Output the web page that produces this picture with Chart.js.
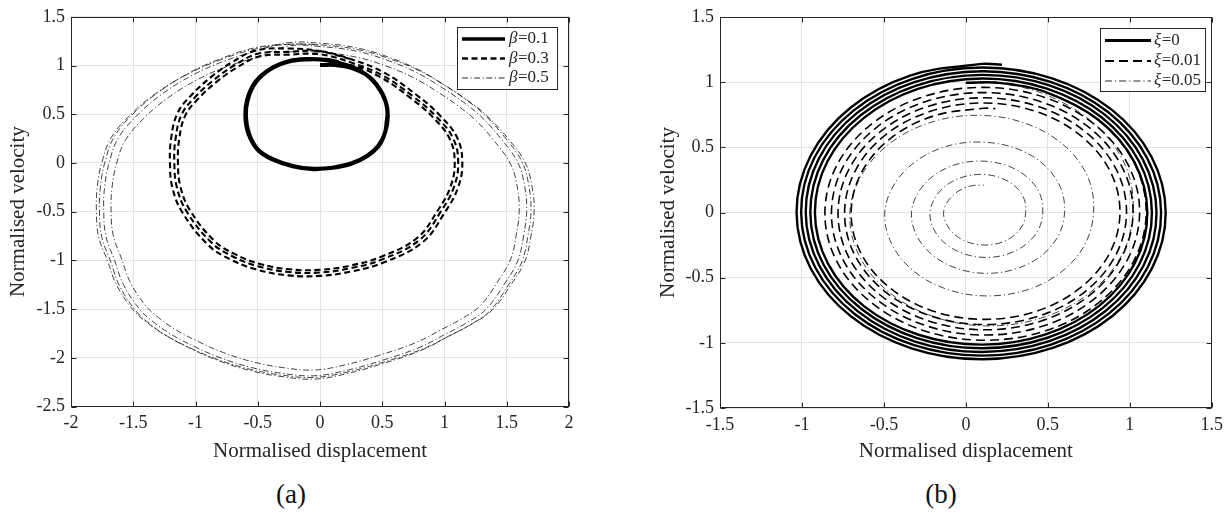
<!DOCTYPE html>
<html>
<head>
<meta charset="utf-8">
<script src="https://cdn.jsdelivr.net/npm/chart.js@4.4.1/dist/chart.umd.min.js"></script>
<style>
  html, body { margin: 0; padding: 0; background: #fff; }
  #wrap { position: relative; width: 1229px; height: 513px; overflow: hidden; background: #fff; }
  canvas { position: absolute; top: 0; }
  .cap { position: absolute; top: 479px; font-family: "Liberation Serif", serif; font-size: 27px; color: #111; transform: translateX(-50%); line-height: 31px; }
</style>
</head>
<body>
<div id="wrap">
  <canvas id="chartA" width="600" height="470" style="left:0"></canvas>
  <canvas id="chartB" width="609" height="470" style="left:620px"></canvas>
  <div class="cap" id="capA" style="left:291px"></div>
  <div class="cap" id="capB" style="left:941px"></div>
</div>
<script>
// ---- Panel (a): phase trajectories for beta ----
const betaLabels = ['0.1', '0.3', '0.5'];

const beta01 = [
  [0, 1.005], [0.12, 1.005], [0.25, 0.975], [0.4, 0.88], [0.5, 0.715], [0.54, 0.55], [0.535, 0.42],
  [0.52, 0.3], [0.47, 0.17], [0.38, 0.07], [0.25, -0.01], [0.1, -0.05], [-0.05, -0.06], [-0.22, -0.03],
  [-0.38, 0.04], [-0.5, 0.14], [-0.57, 0.3], [-0.595, 0.48], [-0.58, 0.65], [-0.52, 0.82], [-0.4, 0.96],
  [-0.25, 1.04], [-0.1, 1.062], [0.05, 1.055], [0.2, 1.01], [0.35, 0.925], [0.46, 0.79], [0.53, 0.62],
  [0.545, 0.48], [0.525, 0.32], [0.47, 0.18], [0.38, 0.075], [0.25, -0.005], [0.1, -0.048], [-0.05, -0.065],
  [-0.22, -0.035], [-0.38, 0.035], [-0.5, 0.135], [-0.575, 0.3], [-0.6, 0.48], [-0.585, 0.65], [-0.52, 0.83],
  [-0.4, 0.965], [-0.25, 1.045], [-0.1, 1.067], [0.05, 1.058], [0.15, 1.035]
];

const beta03 = [
  [0, 1.0], [0.244, 1.004], [0.488, 0.878], [0.731, 0.663], [0.907, 0.468], [1.043, 0.244], [1.082, 0],
  [1.048, -0.244], [0.946, -0.488], [0.78, -0.77], [0.488, -0.965], [0.244, -1.053], [0, -1.097],
  [-0.244, -1.092], [-0.488, -1.034], [-0.683, -0.936], [-0.848, -0.8], [-1.043, -0.488], [-1.121, -0.244],
  [-1.141, 0], [-1.131, 0.244], [-1.082, 0.488], [-0.975, 0.663], [-0.829, 0.834], [-0.673, 0.975], [-0.488, 1.092],
  [-0.244, 1.112], [0, 1.115], [0.25, 1.03], [0.5, 0.9], [0.75, 0.68], [0.93, 0.48], [1.07, 0.25], [1.11, 0],
  [1.075, -0.25], [0.97, -0.5], [0.8, -0.79], [0.5, -0.99], [0.25, -1.08], [0, -1.125], [-0.25, -1.12],
  [-0.5, -1.06], [-0.7, -0.96], [-0.87, -0.82], [-1.07, -0.5], [-1.15, -0.25], [-1.17, 0], [-1.16, 0.25],
  [-1.11, 0.5], [-1.0, 0.68], [-0.85, 0.855], [-0.69, 1.0], [-0.5, 1.12], [-0.25, 1.14], [0, 1.148], [0.258, 1.061],
  [0.515, 0.927], [0.773, 0.7], [0.958, 0.494], [1.102, 0.258], [1.143, 0], [1.107, -0.258], [0.999, -0.515],
  [0.824, -0.814], [0.515, -1.02], [0.258, -1.112], [0, -1.159], [-0.258, -1.154], [-0.515, -1.092],
  [-0.721, -0.989], [-0.896, -0.845], [-1.102, -0.515], [-1.185, -0.258], [-1.205, 0], [-1.195, 0.258],
  [-1.143, 0.515], [-1.03, 0.7], [-0.876, 0.881], [-0.711, 1.03], [-0.515, 1.154], [-0.258, 1.174], [0, 1.148], [0.258, 1.061]
];

const beta05 = [
  [-0.243, 1.141], [-0.001, 1.136], [0.288, 1.087], [0.539, 0.991], [0.751, 0.875], [0.954, 0.721], [1.108, 0.586],
  [1.243, 0.446], [1.398, 0.229], [1.533, -0.018], [1.586, -0.259], [1.6, -0.5], [1.576, -0.741], [1.533, -0.983],
  [1.427, -1.219], [1.287, -1.465], [1.137, -1.6], [0.973, -1.712], [0.771, -1.844], [0.471, -1.976], [0.201, -2.073],
  [-0.05, -2.126], [-0.291, -2.102], [-0.532, -2.044], [-0.773, -1.948], [-0.966, -1.841], [-1.159, -1.712],
  [-1.295, -1.59], [-1.401, -1.465], [-1.526, -1.219], [-1.594, -0.983], [-1.661, -0.741], [-1.678, -0.5],
  [-1.671, -0.259], [-1.636, -0.018], [-1.565, 0.229], [-1.41, 0.465], [-1.217, 0.672], [-0.986, 0.854],
  [-0.754, 0.986], [-0.494, 1.092],
  [-0.25, 1.2], [0, 1.195], [0.3, 1.145], [0.56, 1.045], [0.78, 0.925], [0.99, 0.765], [1.15, 0.625],
  [1.29, 0.48], [1.45, 0.255], [1.59, 0], [1.645, -0.25], [1.66, -0.5], [1.635, -0.75], [1.59, -1.0],
  [1.48, -1.245], [1.335, -1.5], [1.18, -1.64], [1.01, -1.756], [0.8, -1.893], [0.49, -2.03], [0.21, -2.13],
  [-0.05, -2.185], [-0.3, -2.16], [-0.55, -2.1], [-0.8, -2.0], [-1.0, -1.89], [-1.2, -1.756], [-1.34, -1.63],
  [-1.45, -1.5], [-1.58, -1.245], [-1.65, -1.0], [-1.72, -0.75], [-1.737, -0.5], [-1.73, -0.25], [-1.694, 0],
  [-1.62, 0.255], [-1.46, 0.5], [-1.26, 0.715], [-1.02, 0.903], [-0.78, 1.04], [-0.51, 1.15],
  [-0.254, 1.234], [0.001, 1.229], [0.307, 1.178], [0.572, 1.076], [0.796, 0.954], [1.011, 0.79], [1.174, 0.648],
  [1.317, 0.5], [1.48, 0.27], [1.623, 0.01], [1.679, -0.245], [1.694, -0.5], [1.669, -0.755], [1.623, -1.01],
  [1.51, -1.26], [1.363, -1.52], [1.204, -1.663], [1.031, -1.781], [0.817, -1.921], [0.501, -2.061], [0.215, -2.163],
  [-0.05, -2.219], [-0.305, -2.193], [-0.56, -2.132], [-0.815, -2.03], [-1.019, -1.918], [-1.223, -1.781],
  [-1.366, -1.653], [-1.478, -1.52], [-1.611, -1.26], [-1.682, -1.01], [-1.754, -0.755], [-1.771, -0.5],
  [-1.764, -0.245], [-1.727, 0.01], [-1.652, 0.27], [-1.488, 0.52], [-1.284, 0.739], [-1.04, 0.931],
  [-0.795, 1.071], [-0.519, 1.183],
  [-0.257, 1.217], [0.001, 1.212], [0.312, 1.161], [0.581, 1.06], [0.809, 0.939], [1.026, 0.778], [1.192, 0.636],
  [1.336, 0.49], [1.502, 0.263], [1.647, 0.005], [1.704, -0.248], [1.72, -0.5], [1.694, -0.753], [1.647, -1.005],
  [1.533, -1.252], [1.383, -1.51], [1.223, -1.651], [1.047, -1.769], [0.829, -1.907], [0.509, -2.045], [0.219, -2.146],
  [-0.05, -2.202], [-0.309, -2.177], [-0.568, -2.116], [-0.827, -2.015], [-1.034, -1.904], [-1.241, -1.769],
  [-1.386, -1.641], [-1.5, -1.51], [-1.634, -1.252], [-1.706, -1.005], [-1.779, -0.753], [-1.796, -0.5],
  [-1.789, -0.248], [-1.752, 0.005], [-1.675, 0.263], [-1.51, 0.51], [-1.303, 0.727], [-1.054, 0.917],
  [-0.806, 1.055], [-0.527, 1.167], [-0.257, 1.217], [0.001, 1.212]
];

// ---- Panel (b): phase trajectories for xi ----
const xiLabels = ['0', '0.01', '0.05'];

const xi000 = [
  [0, 0.995], [0.2, 0.995], [0.483, 0.926], [0.81, 0.71], [1.029, 0.385], [1.107, 0], [1.032, -0.386], [0.815, -0.715], [0.487, -0.935],
  [0.1, -1.014], [-0.289, -0.938], [-0.62, -0.72], [-0.842, -0.39], [-0.921, 0], [-0.845, 0.391], [-0.624, 0.724], [-0.293, 0.948],
  [0.1, 1.028], [0.494, 0.951], [0.829, 0.729], [1.055, 0.395], [1.135, 0], [1.058, -0.397], [0.834, -0.734], [0.498, -0.961],
  [0.1, -1.042], [-0.299, -0.964], [-0.639, -0.739], [-0.868, -0.401], [-0.949, 0], [-0.871, 0.402], [-0.644, 0.744], [-0.303, 0.974],
  [0.1, 1.056], [0.505, 0.977], [0.849, 0.749], [1.08, 0.406], [1.163, 0], [1.084, -0.407], [0.854, -0.754], [0.509, -0.987],
  [0.1, -1.07], [-0.31, -0.99], [-0.659, -0.759], [-0.893, -0.411], [-0.977, 0], [-0.897, 0.413], [-0.664, 0.764], [-0.314, 1.0],
  [0.1, 1.084], [0.516, 1.003], [0.869, 0.769], [1.106, 0.417], [1.191, 0], [1.11, -0.418], [0.874, -0.774], [0.52, -1.013],
  [0.1, -1.098], [-0.321, -1.016], [-0.679, -0.779], [-0.919, -0.422], [-1.005, 0], [-0.923, 0.424], [-0.684, 0.784], [-0.325, 1.026],
  [0.1, 1.112], [0.526, 1.029], [0.889, 0.789], [1.132, 0.428], [1.219, 0], [1.135, -0.429], [0.894, -0.794], [0.53, -1.039],
  [0.1, -1.126], [-0.332, -1.042], [-0.699, -0.799], [-0.945, -0.433], [-1.033, 0], [-0.948, 0.434], [-0.704, 0.804], [-0.336, 1.052],
  [0.1, 1.14], [0.22, 1.134]
];

const xi001 = [
  [0, 0.994], [0.2, 0.996], [0.492, 0.922], [0.814, 0.704], [1.027, 0.38], [1.1, 0], [1.022, -0.378], [0.807, -0.696], [0.486, -0.908],
  [0.11, -0.98], [-0.264, -0.903], [-0.579, -0.689], [-0.789, -0.372], [-0.86, 0], [-0.784, 0.37], [-0.572, 0.682], [-0.258, 0.889],
  [0.11, 0.96], [0.476, 0.885], [0.785, 0.675], [0.99, 0.365], [1.06, 0], [0.985, -0.363], [0.778, -0.668], [0.471, -0.871],
  [0.11, -0.94], [-0.249, -0.866], [-0.551, -0.661], [-0.752, -0.357], [-0.82, 0], [-0.747, 0.355], [-0.544, 0.654], [-0.243, 0.852],
  [0.11, 0.92], [0.461, 0.848], [0.757, 0.647], [0.953, 0.349], [1.02, 0], [0.948, -0.347], [0.75, -0.64], [0.455, -0.834],
  [0.11, -0.9], [-0.233, -0.829], [-0.523, -0.633], [-0.715, -0.342], [-0.78, 0], [-0.71, 0.34], [-0.516, 0.626], [-0.228, 0.815],
  [0.11, 0.88], [0.446, 0.811], [0.729, 0.619], [0.916, 0.334], [0.98, 0], [0.912, -0.332], [0.722, -0.612], [0.44, -0.797],
  [0.11, -0.86], [-0.218, -0.792], [-0.495, -0.605], [-0.678, -0.326], [-0.74, 0], [-0.673, 0.324], [-0.488, 0.598], [-0.212, 0.778],
  [0.11, 0.84], [0.431, 0.774], [0.7, 0.59], [0.879, 0.319], [0.94, 0], [0.875, -0.317], [0.693, -0.583], [0.425, -0.76],
  [0.11, -0.82], [-0.203, -0.755], [-0.466, -0.576], [-0.641, -0.311], [-0.7, 0], [-0.636, 0.309], [-0.459, 0.569], [-0.197, 0.741],
  [0.11, 0.8], [0.18, 0.797]
];

const xi005 = [
  [0, 0.993], [0.2, 0.992], [0.493, 0.901], [0.792, 0.672], [0.975, 0.354], [1.02, 0], [0.945, -0.342], [0.746, -0.626], [0.456, -0.811],
  [0.12, -0.87], [-0.209, -0.794], [-0.48, -0.6], [-0.655, -0.321], [-0.708, 0], [-0.626, 0.309], [-0.436, 0.556], [-0.173, 0.707],
  [0.12, 0.744], [0.397, 0.668], [0.616, 0.496], [0.748, 0.26], [0.779, 0], [0.724, -0.25], [0.579, -0.459], [0.367, -0.596],
  [0.12, -0.64], [-0.123, -0.586], [-0.324, -0.444], [-0.454, -0.238], [-0.495, 0], [-0.431, 0.228], [-0.288, 0.408], [-0.094, 0.516],
  [0.12, 0.539], [0.321, 0.485], [0.481, 0.361], [0.578, 0.19], [0.602, 0], [0.562, -0.183], [0.456, -0.336], [0.3, -0.435],
  [0.12, -0.467], [-0.057, -0.428], [-0.205, -0.325], [-0.301, -0.175], [-0.332, 0], [-0.284, 0.167], [-0.179, 0.299], [-0.036, 0.377],
  [0.12, 0.393], [0.266, 0.353], [0.382, 0.262], [0.453, 0.138], [0.469, 0], [0.442, -0.133], [0.365, -0.245], [0.252, -0.32],
  [0.12, -0.345], [-0.011, -0.317], [-0.122, -0.242], [-0.195, -0.13], [-0.219, 0], [-0.182, 0.125], [-0.103, 0.223], [0.004, 0.28],
  [0.12, 0.291], [0.227, 0.258], [0.31, 0.19], [0.357, 0.098], [0.365, 0], [0.347, -0.094], [0.295, -0.175], [0.215, -0.23],
  [0.12, -0.25], [0.024, -0.232], [-0.059, -0.179], [-0.115, -0.097], [-0.136, 0], [-0.106, 0.094], [-0.045, 0.165], [0.035, 0.205],
  [0.11, 0.21]
];

// ---- Axes ----
const ticksAx = [-2, -1.5, -1, -0.5, 0, 0.5, 1, 1.5, 2];
const ticksAy = [-2.5, -2, -1.5, -1, -0.5, 0, 0.5, 1, 1.5];
const ticksB = [-1.5, -1, -0.5, 0, 0.5, 1, 1.5];
const xTitle = 'Normalised displacement';
const yTitle = 'Normalised velocity';
const captions = ['(a)', '(b)'];

document.getElementById('capA').textContent = captions[0];
document.getElementById('capB').textContent = captions[1];

const FONT = '"Liberation Serif", serif';
const INK = '#262626';

const toXY = pts => pts.map(p => ({ x: p[0], y: p[1] }));

function curve(pts, width, dash, color, tension) {
  return {
    data: toXY(pts),
    showLine: true,
    borderColor: color,
    borderWidth: width,
    borderDash: dash,
    borderCapStyle: 'butt',
    borderJoinStyle: 'round',
    pointRadius: 0,
    tension: tension,
    fill: false
  };
}

function axis(ticks, title, size, isX) {
  return {
    type: 'linear',
    min: ticks[0],
    max: ticks[ticks.length - 1],
    afterBuildTicks: s => { s.ticks = ticks.map(v => ({ value: v })); },
    afterFit: s => { if (isX) s.height = size; else s.width = size; },
    grid: { color: '#e3e3e3', lineWidth: 1, drawTicks: false },
    border: { display: false },
    ticks: {
      color: INK, padding: 6, autoSkip: false, maxRotation: 0,
      font: { family: FONT, size: 18 },
      callback: v => String(v)
    },
    title: {
      display: true, text: title, color: INK,
      font: { family: FONT, size: 21 },
      padding: isX ? { top: 0, bottom: 6 } : { top: 6, bottom: 0 }
    }
  };
}

// ---- Box around plot area with inward ticks ----
const frame = {
  id: 'frame',
  afterDatasetsDraw(chart) {
    const { ctx, chartArea: a, scales } = chart;
    const L = Math.round(a.left) + 0.5, R = Math.round(a.right) - 0.5;
    const T = Math.round(a.top) + 0.5, B = Math.round(a.bottom) - 0.5;
    ctx.save();
    ctx.setLineDash([]);
    ctx.strokeStyle = INK;
    ctx.lineWidth = 1;
    ctx.strokeRect(L, T, R - L, B - T);
    ctx.beginPath();
    scales.x.ticks.forEach(t => {
      const px = Math.round(scales.x.getPixelForValue(t.value)) + 0.5;
      ctx.moveTo(px, B); ctx.lineTo(px, B - 5);
      ctx.moveTo(px, T); ctx.lineTo(px, T + 5);
    });
    scales.y.ticks.forEach(t => {
      const py = Math.round(scales.y.getPixelForValue(t.value)) + 0.5;
      ctx.moveTo(L, py); ctx.lineTo(L + 5, py);
      ctx.moveTo(R, py); ctx.lineTo(R - 5, py);
    });
    ctx.stroke();
    ctx.restore();
  }
};

// ---- Legend drawn inside the plot, top right ----
const boxLegend = {
  id: 'boxLegend',
  afterDraw(chart, args, o) {
    const ctx = chart.ctx;
    ctx.save();
    ctx.fillStyle = '#fff';
    ctx.fillRect(o.x, o.y, o.w, o.h);
    ctx.setLineDash([]);
    ctx.strokeStyle = INK;
    ctx.lineWidth = 1;
    ctx.strokeRect(o.x + 0.5, o.y + 0.5, o.w, o.h);
    chart.data.datasets.forEach((ds, i) => {
      const yy = o.rows[i];
      ctx.strokeStyle = ds.borderColor;
      ctx.lineWidth = o.widths[i];
      ctx.setLineDash(ds.borderDash);
      ctx.beginPath();
      ctx.moveTo(o.lineX[0], yy);
      ctx.lineTo(o.lineX[1], yy);
      ctx.stroke();
      ctx.setLineDash([]);
      ctx.fillStyle = INK;
      ctx.textBaseline = 'middle';
      ctx.font = 'italic 17px ' + FONT;
      ctx.fillText(o.symbol, o.textX, yy);
      const w = ctx.measureText(o.symbol).width;
      ctx.font = '17px ' + FONT;
      ctx.fillText('=' + o.values[i], o.textX + w + 0.5, yy);
    });
    ctx.restore();
  }
};

function baseOptions(pad, xs, ys, legend) {
  return {
    responsive: false,
    animation: false,
    devicePixelRatio: 1,
    layout: { padding: pad },
    scales: { x: xs, y: ys },
    plugins: { legend: { display: false }, tooltip: { enabled: false }, boxLegend: legend }
  };
}

// ---- Chart (a) ----
new Chart(document.getElementById('chartA'), {
  type: 'scatter',
  data: {
    datasets: [
      curve(beta01, 4, [], '#000', 0.4),
      curve(beta03, 2.1, [6, 3.5], '#000', 0.4),
      curve(beta05, 0.8, [6, 2.5, 1.2, 2.5], '#111', 0.4)
    ]
  },
  options: baseOptions(
    { left: 0, top: 15, right: 31, bottom: 0 },
    axis(ticksAx, xTitle, 63.5, true),
    axis(ticksAy, yTitle, 71, false),
    {
      x: 457, y: 27, w: 100, h: 62, rows: [39, 58.5, 78], lineX: [462, 505], textX: 509,
      widths: [3.5, 2.5, 0.9], symbol: 'β', values: betaLabels
    }
  ),
  plugins: [frame, boxLegend]
});

// ---- Chart (b) ----
new Chart(document.getElementById('chartB'), {
  type: 'scatter',
  data: {
    datasets: [
      curve(xi000, 2.4, [], '#000', 0.35),
      curve(xi001, 1.6, [9, 5], '#000', 0.35),
      curve(xi005, 0.8, [7, 3, 1.2, 3], '#111', 0.35)
    ]
  },
  options: baseOptions(
    { left: 30, top: 17, right: 15, bottom: 0 },
    axis(ticksB, xTitle, 62, true),
    axis(ticksB, yTitle, 70, false),
    {
      x: 480, y: 28, w: 105, h: 63, rows: [40.5, 61, 81], lineX: [485, 531], textX: 534,
      widths: [3, 1.8, 0.9], symbol: 'ξ', values: xiLabels
    }
  ),
  plugins: [frame, boxLegend]
});
</script>
</body>
</html>
